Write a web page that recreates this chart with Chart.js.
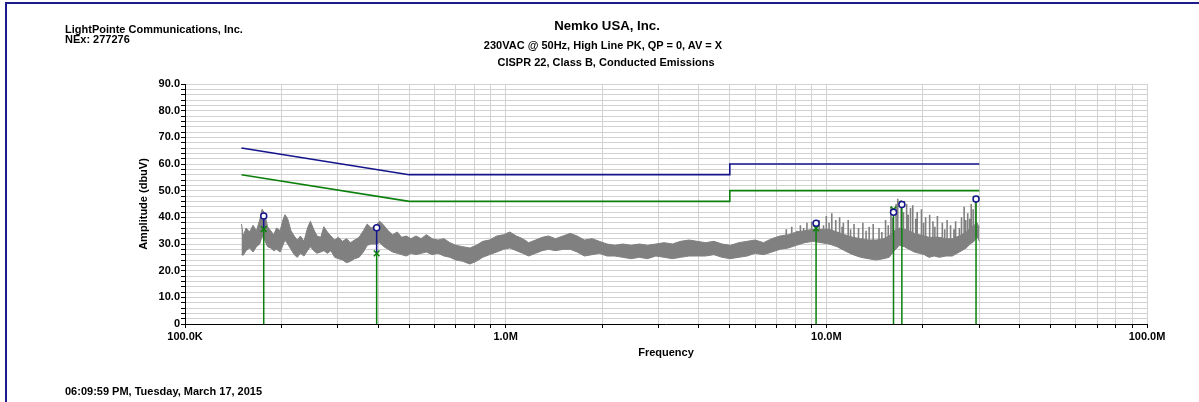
<!DOCTYPE html>
<html>
<head>
<meta charset="utf-8">
<script src="https://cdn.jsdelivr.net/npm/chart.js@4.4.1/dist/chart.umd.min.js"></script>
<style>
  body { margin: 0; background: #fff; font-family: "Liberation Sans", Arial, sans-serif; }
  #wrap { position: relative; width: 1199px; height: 402px; overflow: hidden; }
  #frame { position: absolute; left: 5px; top: 2px; width: 1200px; height: 420px;
           border-top: 2px solid #1c1c8c; border-left: 2px solid #1c1c8c; }
  canvas { position: absolute; left: 0; top: 0; }
  .txt { position: absolute; font-weight: bold; font-size: 10px; line-height: 12px; color: #000;
         white-space: nowrap; transform: scaleX(1.1); transform-origin: left center; }
  .ctr { width: 600px; text-align: center; transform-origin: center center; }
</style>
</head>
<body>
<div id="wrap">
  <div id="frame"></div>
  <canvas id="myChart" width="1199" height="402"></canvas>
  <div class="txt" style="left:65px; top:24px;">LightPointe Communications, Inc.</div>
  <div class="txt" style="left:65px; top:34px;">NEx: 277276</div>
  <div class="txt ctr" style="left:307px; top:19px; font-size:12px; line-height:14px;">Nemko USA, Inc.</div>
  <div class="txt ctr" style="left:303px; top:40px;">230VAC @ 50Hz, High Line PK, QP = 0, AV = X</div>
  <div class="txt ctr" style="left:306px; top:57px;">CISPR 22, Class B, Conducted Emissions</div>
  <div class="txt" style="left:65px; top:386px;">06:09:59 PM, Tuesday, March 17, 2015</div>
</div>
<script>
// Measured trace (envelope of the peak scan), frequency in MHz, amplitude in dBuV
const noiseFreq = [0.150, 0.152, 0.155, 0.159, 0.163, 0.167, 0.171, 0.174, 0.177, 0.181,
  0.185, 0.189, 0.193, 0.198, 0.202, 0.205, 0.209, 0.214, 0.219, 0.224,
  0.229, 0.235, 0.241, 0.246, 0.252, 0.258, 0.265, 0.271, 0.278, 0.285,
  0.293, 0.301, 0.310, 0.319, 0.328, 0.338, 0.349, 0.360, 0.370, 0.381,
  0.393, 0.405, 0.417, 0.430, 0.444, 0.459, 0.474, 0.490, 0.507, 0.525,
  0.545, 0.566, 0.590, 0.615, 0.642, 0.670, 0.700, 0.735, 0.773, 0.810,
  0.848, 0.890, 0.938, 0.985, 1.03, 1.08, 1.13, 1.18, 1.24, 1.30,
  1.36, 1.43, 1.51, 1.59, 1.67, 1.76, 1.86, 1.96, 2.07, 2.19,
  2.32, 2.46, 2.61, 2.77, 2.94, 3.12, 3.31, 3.51, 3.73, 3.96,
  4.20, 4.46, 4.73, 5.02, 5.33, 5.66, 6.00, 6.37, 6.76, 7.17,
  7.61, 8.07, 8.56, 9.08, 9.63, 10.2, 10.8, 11.4, 12.1, 12.8,
  13.5, 14.3, 15.1, 15.7, 16.3, 16.9, 17.5, 18.1, 18.8, 19.5,
  20.2, 20.9, 21.7, 22.5, 23.6, 24.7, 26.0, 27.3, 28.1, 28.9,
  29.5, 30.0];
const noiseHigh = [37.5, 33.0, 36.0, 34.5, 37.0, 35.0, 39.0, 43.0, 41.5, 36.5,
  35.0, 33.5, 36.0, 35.0, 39.0, 41.0, 39.5, 35.0, 33.0, 31.5,
  33.0, 31.0, 36.0, 38.5, 35.5, 33.0, 32.5, 36.5, 34.5, 33.0,
  31.5, 32.5, 31.0, 32.0, 30.5, 31.5, 32.5, 35.0, 37.5, 36.0,
  37.0, 38.5, 37.0, 35.0, 33.5, 34.5, 32.5, 33.0, 32.0, 33.0,
  32.0, 33.5, 32.0, 31.5, 32.0, 30.5, 29.5, 29.0, 28.5, 29.5,
  31.0, 31.5, 33.0, 33.5, 34.5, 33.0, 32.0, 30.5, 31.5, 32.5,
  33.0, 32.0, 33.0, 34.0, 33.0, 31.5, 32.0, 31.0, 30.0, 29.5,
  30.0, 29.5, 30.0, 29.5, 30.0, 30.5, 30.0, 31.0, 31.5, 31.0,
  30.5, 31.0, 30.0, 29.5, 30.5, 31.0, 31.5, 30.5, 32.0, 33.0,
  33.5, 34.5, 35.0, 35.5, 35.5, 35.5, 34.5, 33.5, 32.5, 32.0,
  31.5, 31.5, 32.0, 33.0, 35.0, 36.0, 35.5, 35.0, 34.0, 33.5,
  33.0, 32.5, 32.5, 32.5, 32.0, 32.0, 33.0, 34.5, 36.0, 37.0,
  38.0, 36.0];
const noiseLow = [26.0, 25.8, 27.5, 28.5, 27.0, 29.0, 30.0, 33.0, 31.5, 29.0,
  28.5, 27.5, 28.0, 27.0, 29.5, 31.5, 30.0, 28.0, 26.0, 25.0,
  26.5, 25.5, 27.5, 29.0, 27.5, 26.5, 27.0, 27.5, 26.5, 27.5,
  25.0, 24.5, 24.0, 23.0, 23.5, 24.5, 25.0, 27.0, 29.5, 30.0,
  30.0, 30.5, 29.0, 28.0, 27.0, 26.5, 26.0, 25.5, 26.5, 26.0,
  26.5, 27.0, 26.0, 26.5, 25.5, 25.0, 24.0, 23.5, 22.5, 23.5,
  25.0, 26.0, 27.0, 28.0, 28.5, 27.5, 26.5, 25.5, 26.5, 27.5,
  28.0, 27.5, 28.0, 28.0, 27.0, 25.5, 26.0, 26.5, 25.5, 25.5,
  25.0, 24.5, 25.0, 24.5, 25.5, 25.0, 24.5, 25.0, 25.5, 25.5,
  25.5, 26.0, 25.0, 24.5, 25.0, 25.5, 26.5, 26.0, 27.0, 28.0,
  28.5, 29.5, 30.5, 31.0, 30.5, 30.0, 29.0, 27.5, 26.0, 25.0,
  24.5, 24.0, 24.5, 25.0, 27.5, 29.5, 29.0, 28.0, 27.0, 26.5,
  26.0, 25.0, 25.5, 25.0, 25.5, 25.5, 27.0, 28.5, 30.0, 31.0,
  33.0, 31.0];

// Narrow spikes riding on the trace above 7 MHz (MHz, top and foot in dBuV)
const spikeFreq = [7.5, 7.8, 8.1, 8.3, 8.5, 8.7, 9.0, 9.5, 9.8, 10.0,
  10.2, 10.4, 10.7, 11.0, 11.2, 11.3, 11.7, 11.9, 12.2, 12.6,
  13.0, 13.3, 13.6, 14.0, 14.6, 14.9, 15.3, 15.6, 15.9, 16.1,
  16.5, 16.7, 17.1, 17.4, 17.8, 18.0, 18.3, 18.6, 19.0, 19.2,
  19.8, 20.1, 20.4, 21.0, 21.5, 21.8, 22.2, 23.0, 23.4, 23.8,
  24.4, 25.0, 25.3, 26.0, 26.4, 26.9, 27.2, 27.6, 28.0, 28.3,
  28.7, 29.2];
const spikeTop = [35.5, 36.5, 35.0, 37.0, 36.0, 38.0, 38.3, 39.0, 37.0, 40.5,
  38.0, 41.5, 39.0, 40.0, 36.5, 38.0, 39.0, 35.5, 37.5, 36.0,
  38.0, 35.0, 36.5, 37.5, 36.0, 34.5, 39.0, 37.0, 44.0, 40.0,
  45.0, 47.0, 46.5, 42.0, 45.0, 41.0, 43.5, 44.5, 39.5, 42.0,
  43.0, 38.0, 40.0, 41.0, 38.5, 36.5, 40.5, 38.0, 35.5, 39.0,
  37.0, 35.5, 38.5, 36.0, 40.0, 44.0, 39.0, 41.5, 39.5, 45.0,
  43.0, 47.0];
const spikeFoot = [30.5, 31.0, 31.5, 32.0, 32.0, 32.5, 33.0, 33.0, 33.0, 32.5,
  32.5, 32.0, 31.0, 31.0, 30.5, 30.0, 29.5, 29.5, 29.0, 28.5,
  28.5, 28.5, 28.0, 28.0, 28.0, 28.5, 29.0, 29.5, 30.0, 30.5,
  31.0, 32.0, 31.5, 31.0, 31.0, 30.5, 30.5, 30.0, 29.5, 29.5,
  29.0, 28.5, 28.5, 28.5, 28.0, 28.0, 28.0, 28.0, 28.0, 28.0,
  28.0, 28.0, 28.0, 28.5, 29.0, 29.5, 30.0, 30.5, 31.0, 32.0,
  32.5, 33.0];

// CISPR 22 Class B limits (MHz, dBuV)
const limitFreq = [0.15, 0.5, 5, 5, 30];
const qpLimit = [66, 56, 56, 60, 60];
const avgLimit = [56, 46, 46, 50, 50];

// Marked signals: peak (circle) and QP/AV reading (cross)
const markerFreq = [0.176, 0.396, 9.29, 16.2, 17.2, 29.3];
const markerPeak = [40.5, 36.1, 37.8, 41.9, 44.8, 46.9];
const markerQP = [35.6, 26.5, 35.9, 43.0, 45.0, 46.9];

// Axis ticks
const yMax = 90;
const yStep = 2;
const freqMajor = [0.1, 1, 10, 100];
const freqMajorLabels = ['100.0K', '1.0M', '10.0M', '100.0M'];

const NAVY = '#14148c';
const GREEN = '#0c800c';
const GRAY = '#808080';

const pts = (xs, ys) => xs.map((x, i) => ({ x: x, y: ys[i] }));

// vertical segments separated by gaps
const stems = (xs, lo, hi) => {
    const out = [];
    xs.forEach((x, i) => out.push({ x: x, y: lo[i] }, { x: x, y: hi[i] }, { x: x, y: null }));
    return out;
};

const freqTicks = [];
for (let d = 0; d < freqMajor.length - 1; d++) {
    for (let m = 1; m <= 9; m++) freqTicks.push(freqMajor[d] * m);
}
freqTicks.push(freqMajor[freqMajor.length - 1]);

const boldFont = { family: '"Liberation Sans", Arial, sans-serif', size: 11, weight: 'bold' };

const config = {
    type: 'line',
    data: {
        datasets: [
            { label: 'Peak', data: pts(markerFreq, markerPeak), showLine: false,
              pointStyle: 'circle', pointRadius: 3, pointBorderWidth: 1.5,
              pointBorderColor: NAVY, pointBackgroundColor: '#fff' },
            { label: 'QP', data: pts(markerFreq, markerQP), showLine: false,
              pointStyle: 'crossRot', pointRadius: 4, pointBorderWidth: 1.5,
              pointBorderColor: GREEN, pointBackgroundColor: GREEN },
            { label: 'stem upper', data: stems(markerFreq, markerQP, markerPeak), borderColor: NAVY,
              borderWidth: 1.5, pointRadius: 0, spanGaps: false },
            { label: 'stem', data: stems(markerFreq, markerFreq.map(() => 0), markerQP), borderColor: GREEN,
              borderWidth: 1.5, pointRadius: 0, spanGaps: false },
            { label: 'QP limit', data: pts(limitFreq, qpLimit), borderColor: NAVY,
              borderWidth: 1.6, pointRadius: 0 },
            { label: 'AV limit', data: pts(limitFreq, avgLimit), borderColor: GREEN,
              borderWidth: 1.6, pointRadius: 0 },
            { label: 'Spikes', data: stems(spikeFreq, spikeFoot, spikeTop), borderColor: GRAY,
              borderWidth: 1.6, pointRadius: 0, spanGaps: false },
            { label: 'Trace high', data: pts(noiseFreq, noiseHigh), borderColor: GRAY,
              borderWidth: 1, pointRadius: 0, fill: '+1', backgroundColor: GRAY },
            { label: 'Trace low', data: pts(noiseFreq, noiseLow), borderColor: GRAY,
              borderWidth: 1, pointRadius: 0 }
        ]
    },
    options: {
        responsive: false,
        animation: false,
        layout: { padding: { top: 84, left: 135, right: 52, bottom: 40 } },
        plugins: { legend: { display: false }, tooltip: { enabled: false } },
        scales: {
            x: {
                type: 'logarithmic',
                min: 0.1,
                max: 100,
                afterBuildTicks: (scale) => { scale.ticks = freqTicks.map(v => ({ value: v })); },
                afterFit: (scale) => { scale.height = 38; },
                grid: { color: '#d2d2d2', tickColor: '#000', tickLength: 4 },
                border: { color: '#000', width: 1 },
                ticks: {
                    autoSkip: false, maxRotation: 0, padding: 2, color: '#000', font: boldFont,
                    callback: (v) => {
                        const i = freqMajor.findIndex(m => Math.abs(m - v) < 1e-9);
                        return i >= 0 ? freqMajorLabels[i] : '';
                    }
                },
                title: { display: true, text: 'Frequency', color: '#000', font: boldFont,
                         padding: { top: 2, bottom: 2 } }
            },
            y: {
                min: 0,
                max: yMax,
                afterFit: (scale) => { scale.width = 50; },
                grid: { color: '#d2d2d2', tickColor: '#000', tickLength: 4 },
                border: { color: '#000', width: 1 },
                ticks: {
                    stepSize: yStep, autoSkip: false, padding: 1, color: '#000', font: boldFont,
                    callback: (v) => v === 0 ? '0' : (v % 10 === 0 ? v.toFixed(1) : '')
                },
                title: { display: true, text: 'Amplitude (dbuV)', color: '#000', font: boldFont,
                         padding: { top: 2, bottom: 2 } }
            }
        }
    }
};

const ctx = document.getElementById('myChart').getContext('2d');
const myChart = new Chart(ctx, config);
</script>
</body>
</html>
